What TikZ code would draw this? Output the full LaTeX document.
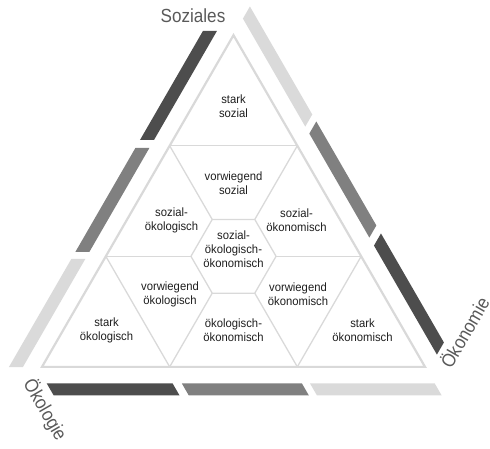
\documentclass[tikz,border=0pt]{standalone}
\usepackage{fontspec}
\setmainfont{Liberation Sans}
\newfontfamily\bodyf[FakeStretch=0.94]{Liberation Sans}
\newfontfamily\labf[FakeStretch=0.9]{Liberation Sans}
\definecolor{bardark}{HTML}{4D4D4D}
\definecolor{barmid}{HTML}{808080}
\definecolor{barlight}{HTML}{DADADA}
\definecolor{linegray}{HTML}{D9D9D9}
\definecolor{txt}{HTML}{1E1E1E}
\definecolor{labgray}{HTML}{595959}
\begin{document}
\begin{tikzpicture}[x=1pt,y=1pt,
  gridline/.style={draw=linegray, line width=1.3pt},
  outline/.style={draw=linegray, line width=2.2pt, line join=miter},
  cell/.style={align=center, text=txt, font=\bodyf\fontsize{12}{14}\selectfont, inner sep=0pt},
  dimlabel/.style={text=labgray, font=\labf\fontsize{19}{22}\selectfont, inner sep=0pt}]
\useasboundingbox (0,0) rectangle (490,-449);
\begin{scope}[shift={(233.5,-256.3)}]
  % outer bands, three-fold symmetric
  \foreach \r in {0,-120,120}{
    \begin{scope}[rotate=\r]
      \fill[bardark] (-16.58,225.3) -- (-30.58,225.3) -- (-93.51,116.3) -- (-79.51,116.3) -- cycle;
      \fill[barmid] (-84.13,108.3) -- (-98.13,108.3) -- (-158.17,4.3) -- (-144.17,4.3) -- cycle;
      \fill[barlight] (-148.21,-2.7) -- (-162.21,-2.7) -- (-224.57,-110.7) -- (-210.57,-110.7) -- cycle;
    \end{scope}}
  % grid coordinates
  \coordinate (TA) at (0,221.1);
  \coordinate (TB) at (-191.5,-110.55);
  \coordinate (TC) at (191.5,-110.55);
  \coordinate (P1L) at (-63.83,110.55);
  \coordinate (P1R) at (63.83,110.55);
  \coordinate (P2L) at (-127.67,0);
  \coordinate (P2R) at (127.67,0);
  \coordinate (P3a) at (-63.83,-110.55);
  \coordinate (P3b) at (63.83,-110.55);
  \coordinate (HL) at (-42.56,0);
  \coordinate (HR) at (42.56,0);
  \coordinate (HTL) at (-21.28,36.86);
  \coordinate (HTR) at (21.28,36.86);
  \coordinate (HBL) at (-21.28,-36.86);
  \coordinate (HBR) at (21.28,-36.86);
  % inner lines
  \draw[gridline] (P1L) -- (P1R);
  \draw[gridline] (P2L) -- (HL);
  \draw[gridline] (HR) -- (P2R);
  \draw[gridline] (P2L) -- (P3a);
  \draw[gridline] (P2R) -- (P3b);
  \draw[gridline] (HL) -- (HTL) -- (HTR) -- (HR) -- (HBR) -- (HBL) -- cycle;
  \draw[gridline] (P1L) -- (HTL);
  \draw[gridline] (P1R) -- (HTR);
  \draw[gridline] (HBL) -- (P3a);
  \draw[gridline] (HBR) -- (P3b);
  \draw[outline] (TA) -- (TB) -- (TC) -- cycle;
  % cell texts
  \node[cell] (ss) at (0,150) {stark\\sozial};
  \node[cell] (vs) at (0,73) {vorwiegend\\sozial};
  \node[cell] (sog) at (-62,36) {sozial-\\ökologisch};
  \node[cell] (son) at (63,36) {sozial-\\ökonomisch};
  \node[cell] (soo) at (0,7) {sozial-\\ökologisch-\\ökonomisch};
  \node[cell] (vog) at (-63.5,-37.7) {vorwiegend\\ökologisch};
  \node[cell] (von) at (64.5,-37.7) {vorwiegend\\ökonomisch};
  \node[cell] (sog2) at (-127,-74) {stark\\ökologisch};
  \node[cell] (sok) at (129,-74) {stark\\ökonomisch};
  \node[cell] (oo) at (0,-74) {ökologisch-\\ökonomisch};
\end{scope}
% dimension labels
\node[dimlabel, anchor=base] (lsoz) at (193,-22.7) {Soziales};
\node[dimlabel, rotate=-60] (loeg) at (45,-410) {Ökologie};
\node[dimlabel, rotate=60] (loen) at (464,-332) {Ökonomie};
\end{tikzpicture}
\end{document}
